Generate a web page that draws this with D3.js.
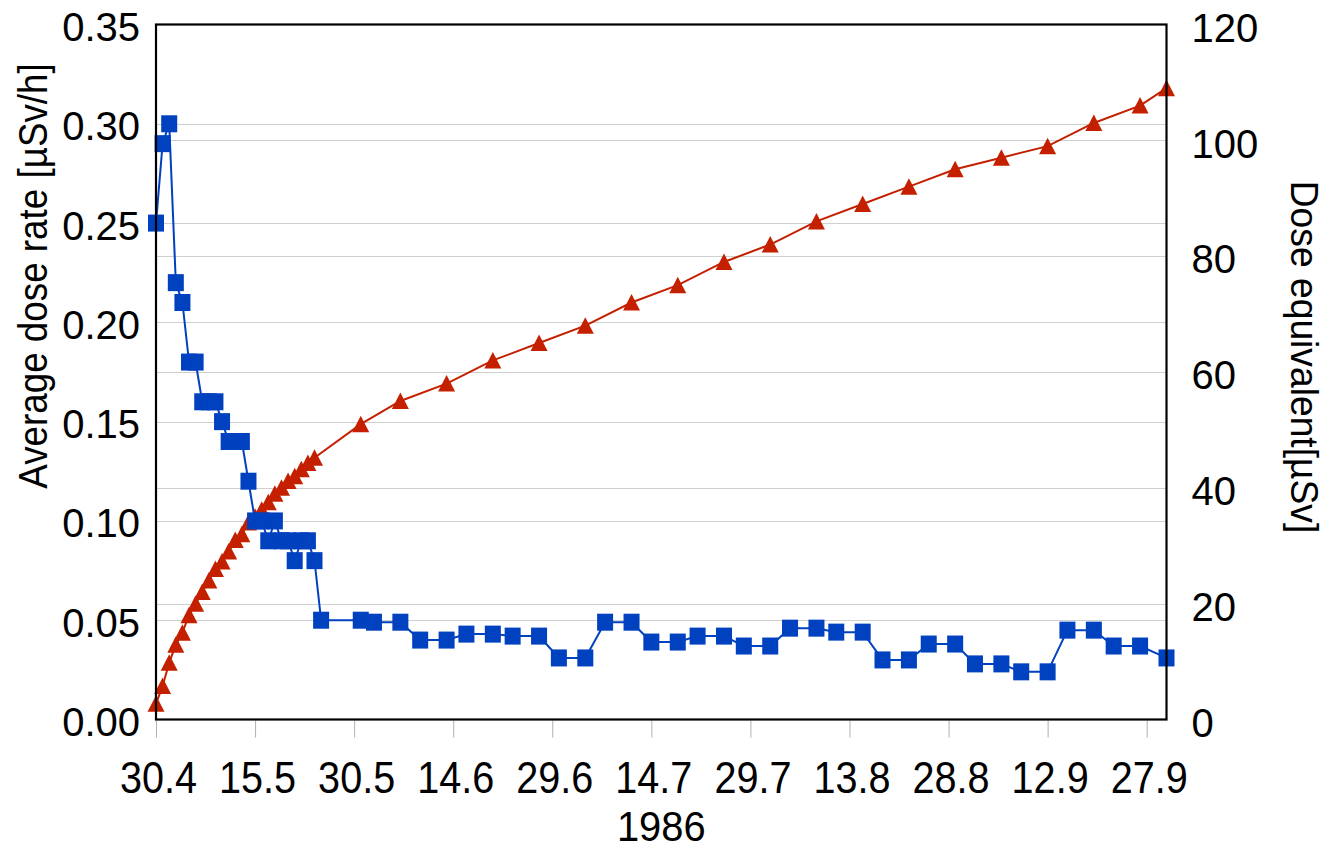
<!DOCTYPE html>
<html>
<head>
<meta charset="utf-8">
<script src="https://cdn.jsdelivr.net/npm/d3@7"></script>
<style>
  html, body { margin: 0; padding: 0; background: #ffffff; }
  svg { display: block; }
  text { font-family: "Liberation Sans", Arial, Helvetica, sans-serif; fill: #000; }
</style>
</head>
<body>
<svg id="chart" width="1330" height="850"></svg>
<script>
// Days counted from 30 April 1986
const tickDays   = [0, 15, 30, 45, 60, 75, 90, 105, 120, 135, 150];
const tickLabels = ["30.4", "15.5", "30.5", "14.6", "29.6", "14.7", "29.7", "13.8", "28.8", "12.9", "27.9"];

// Average dose rate [µSv/h]
const rateDay = [0, 1, 2, 3, 4, 5, 6, 7, 8, 9, 10, 11, 12, 13, 14, 15, 16, 17, 18, 19, 20, 21, 22, 23, 24,
  25, 31, 33, 37, 40, 44, 47, 51, 54, 58, 61, 65, 68, 72, 75, 79, 82, 86, 89, 93,
  96, 100, 103, 107, 110, 114, 117, 121, 124, 128, 131, 135, 138, 142, 145, 149, 153];
const rateValue = [0.25, 0.29, 0.30, 0.22, 0.21, 0.18, 0.18, 0.16, 0.16, 0.16, 0.15, 0.14, 0.14, 0.14, 0.12,
  0.10, 0.10, 0.09, 0.10, 0.09, 0.09, 0.08, 0.09, 0.09, 0.08,
  0.050, 0.050, 0.049, 0.049, 0.040, 0.040, 0.043, 0.043, 0.042, 0.042, 0.031, 0.031, 0.049, 0.049,
  0.039, 0.039, 0.042, 0.042, 0.037, 0.037, 0.046, 0.046, 0.044, 0.044, 0.030, 0.030, 0.038, 0.038,
  0.028, 0.028, 0.024, 0.024, 0.045, 0.045, 0.037, 0.037, 0.031];

// Cumulative dose equivalent [µSv]
const doseDay = [0, 1, 2, 3, 4, 5, 6, 7, 8, 9, 10, 11, 12, 13, 14, 15, 16, 17, 18, 19, 20, 21, 22, 23, 24,
  31, 37, 44, 51, 58, 65, 72, 79, 86, 93, 100, 107, 114, 121, 128, 135, 142, 149, 153];
const doseValue = [2.7, 5.8, 9.8, 12.9, 15.0, 18.0, 20.0, 22.0, 24.0, 26.0, 27.3, 29.0, 31.0, 32.0, 34.0,
  35.0, 36.2, 37.5, 39.0, 40.0, 41.2, 42.0, 43.2, 44.3, 45.2,
  51, 55, 58, 62, 65, 68, 72, 75, 79, 82, 86, 89, 92, 95, 97, 99, 103, 106, 109];

const rateTicks = [0, 0.05, 0.10, 0.15, 0.20, 0.25, 0.30, 0.35];
const doseTicks = [0, 20, 40, 60, 80, 100, 120];

const svg = d3.select("#chart");
const plotLeft = 156, plotRight = 1166.5, plotTop = 24.5, plotBottom = 719.5;

const x = d3.scaleLinear().domain([0, 153]).range([plotLeft, plotRight]);
const yRate = d3.scaleLinear().domain([0, 0.35]).range([plotBottom, plotTop]);
const yDose = d3.scaleLinear().domain([0, 120]).range([plotBottom, plotTop]);

const blue = "#0041c0";
const red = "#c42000";

// grid lines for both value axes
const grid = svg.append("g");
grid.selectAll("line.gr")
  .data(rateTicks.filter(v => v > 0 && v < 0.35))
  .join("line")
  .attr("class", "gr")
  .attr("x1", plotLeft).attr("x2", plotRight)
  .attr("y1", d => Math.round(yRate(d)) + 0.5).attr("y2", d => Math.round(yRate(d)) + 0.5)
  .attr("stroke", "#cfcfcf").attr("stroke-width", 1);
grid.selectAll("line.gd")
  .data(doseTicks.filter(v => v > 0 && v < 120))
  .join("line")
  .attr("class", "gd")
  .attr("x1", plotLeft).attr("x2", plotRight)
  .attr("y1", d => Math.round(yDose(d)) + 0.5).attr("y2", d => Math.round(yDose(d)) + 0.5)
  .attr("stroke", "#cfcfcf").attr("stroke-width", 1);

// x axis ticks and labels (narrow lettering)
const xAxis = d3.axisBottom(x)
  .tickValues(tickDays)
  .tickFormat((d, i) => tickLabels[i])
  .tickSize(17)
  .tickSizeOuter(0);
const gx = svg.append("g").attr("transform", `translate(0,${plotBottom + 1})`).call(xAxis);
gx.select(".domain").remove();
gx.selectAll(".tick line").attr("stroke", "#b0b0b0").attr("stroke-width", 1);
gx.selectAll(".tick text")
  .attr("y", 0).attr("dy", 0)
  .attr("transform", "translate(2,72.5) scale(0.9,1)")
  .style("font-size", "44px");

// left axis labels
const yAxisL = d3.axisLeft(yRate).tickValues(rateTicks).tickFormat(d3.format(".2f")).tickSize(0);
const gl = svg.append("g").attr("transform", `translate(${plotLeft - 16},0)`).call(yAxisL);
gl.select(".domain").remove();
gl.selectAll(".tick text").attr("x", 0).attr("dy", "0.4em").style("font-size", "40px");

// right axis labels
const yAxisR = d3.axisRight(yDose).tickValues(doseTicks).tickFormat(d3.format("d")).tickSize(0);
const gr = svg.append("g").attr("transform", `translate(${plotRight + 25},0)`).call(yAxisR);
gr.select(".domain").remove();
gr.selectAll(".tick text").attr("x", 0).attr("dy", "0.42em").style("font-size", "40px");

// axis titles
svg.append("text")
  .attr("transform", "translate(47,276) rotate(-90) scale(0.92,1)")
  .attr("text-anchor", "middle")
  .style("font-size", "40px")
  .text("Average dose rate [µSv/h]");
svg.append("text")
  .attr("transform", "translate(1291,357) rotate(90) scale(0.98,1)")
  .attr("text-anchor", "middle")
  .style("font-size", "38px")
  .text("Dose equivalent[µSv]");
svg.append("text")
  .attr("transform", `translate(${(plotLeft + plotRight) / 2},841) scale(0.95,1)`)
  .attr("text-anchor", "middle")
  .style("font-size", "42px")
  .text("1986");

// cumulative dose series
const doseData = doseDay.map((d, i) => ({ d, v: doseValue[i] }));
svg.append("path")
  .datum(doseData)
  .attr("fill", "none")
  .attr("stroke", red)
  .attr("stroke-width", 2)
  .attr("d", d3.line().x(p => x(p.d)).y(p => yDose(p.v)));
const tri = "M0,-8.5L8.5,8L-8.5,8Z";
svg.append("g").selectAll("path")
  .data(doseData)
  .join("path")
  .attr("d", tri)
  .attr("fill", red)
  .attr("transform", p => `translate(${x(p.d)},${yDose(p.v)})`);

// dose rate series
const rateData = rateDay.map((d, i) => ({ d, v: rateValue[i] }));
svg.append("path")
  .datum(rateData)
  .attr("fill", "none")
  .attr("stroke", blue)
  .attr("stroke-width", 2)
  .attr("d", d3.line().x(p => x(p.d)).y(p => yRate(p.v)));
svg.append("g").selectAll("rect")
  .data(rateData)
  .join("rect")
  .attr("x", p => x(p.d) - 8)
  .attr("y", p => yRate(p.v) - 8.5)
  .attr("width", 16)
  .attr("height", 17)
  .attr("fill", blue);

// plot frame
svg.append("rect")
  .attr("x", plotLeft).attr("y", plotTop)
  .attr("width", plotRight - plotLeft).attr("height", plotBottom - plotTop)
  .attr("fill", "none")
  .attr("stroke", "#000")
  .attr("stroke-width", 2.2);
</script>
</body>
</html>
